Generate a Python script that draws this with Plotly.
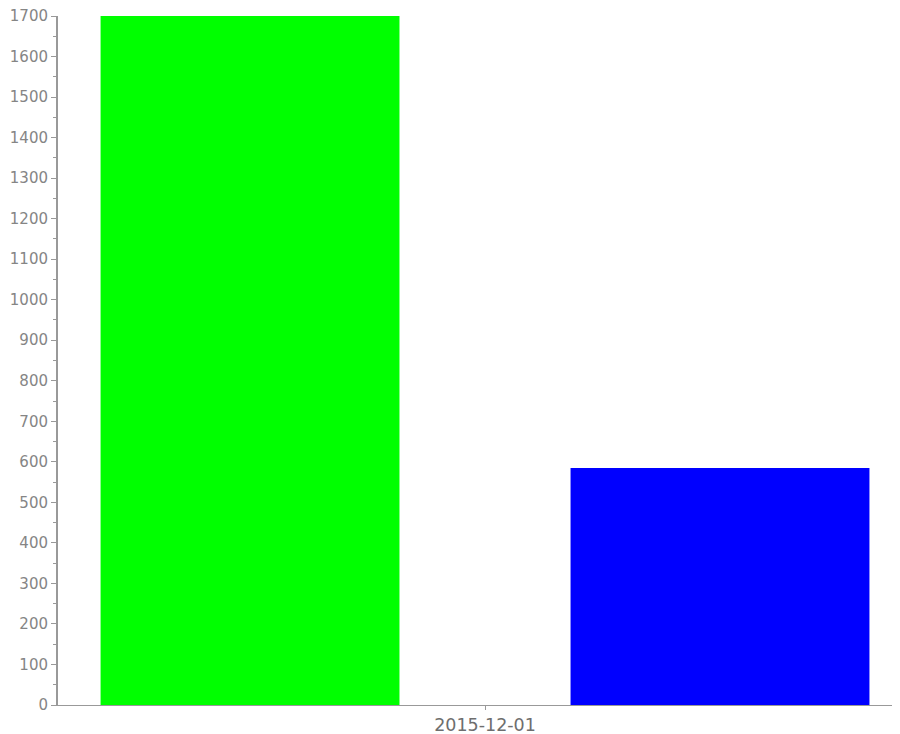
import plotly.graph_objects as go

categories = ["2015-12-01"]
series_a = [1700]
series_b = [585]
y_ticks = list(range(0, 1800, 100))

fig = go.Figure()
fig.add_trace(go.Bar(x=categories, y=series_a, marker=dict(color="#00ff00", line=dict(width=0)), showlegend=False))
fig.add_trace(go.Bar(x=categories, y=series_b, marker=dict(color="#0000ff", line=dict(width=0)), showlegend=False))

# page body has an 8px default margin; the window crops the overflow
fig.update_layout(
    width=892, height=726,
    margin=dict(l=50, r=0, t=8, b=29),
    paper_bgcolor="white", plot_bgcolor="white",
    barmode="group", bargap=0.0, bargroupgap=0.364,
    font=dict(family="DejaVu Sans", size=12, color="#808080"),
    xaxis=dict(type="category", range=[-0.4543, 0.4415], showline=True, linecolor="#999999", linewidth=1,
               ticks="outside", ticklen=4, tickcolor="#999999", showgrid=False, zeroline=False,
               automargin=False, ticklabeloverflow="allow", tickfont=dict(size=17.5, color="#6e6e6e")),
    yaxis=dict(range=[0, 1700], tickvals=y_ticks, showline=True, linecolor="#999999", linewidth=2,
               ticks="outside", ticklen=5, tickcolor="#999999", showgrid=False, zeroline=False,
               automargin=False, ticklabeloverflow="allow", tickfont=dict(size=15, color="#858585"),
               minor=dict(ticks="outside", ticklen=3, tickcolor="#999999", dtick=50, tick0=0)),
)

fig.write_html("out.html")
